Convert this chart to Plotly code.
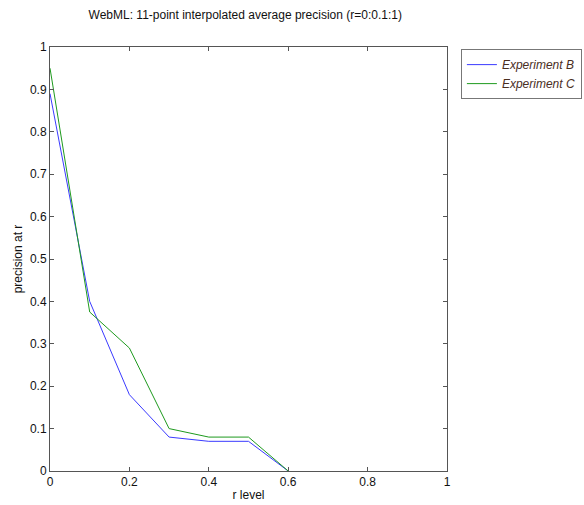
import plotly.graph_objects as go

# Recall levels and interpolated precision for each experiment
r_levels = [0.0, 0.1, 0.2, 0.3, 0.4, 0.5, 0.6]
precision_b = [0.89, 0.40, 0.18, 0.08, 0.07, 0.07, 0.0]
precision_c = [0.95, 0.375, 0.29, 0.10, 0.08, 0.08, 0.0]

x_ticks = [0, 0.2, 0.4, 0.6, 0.8, 1]
x_tick_text = ["0", "0.2", "0.4", "0.6", "0.8", "1"]
y_ticks = [0, 0.1, 0.2, 0.3, 0.4, 0.5, 0.6, 0.7, 0.8, 0.9, 1]
y_tick_text = ["0", "0.1", "0.2", "0.3", "0.4", "0.5", "0.6", "0.7", "0.8", "0.9", "1"]

fig = go.Figure()
fig.add_trace(go.Scatter(x=r_levels, y=precision_b, mode="lines", name="Experiment B",
                         line=dict(color="#3a3aff", width=1)))
fig.add_trace(go.Scatter(x=r_levels, y=precision_c, mode="lines", name="Experiment C",
                         line=dict(color="#1e9a1e", width=1)))

axis_common = dict(showline=True, linecolor="#555555", linewidth=1, mirror="ticks",
                   ticks="inside", ticklen=4, tickcolor="#555555", showgrid=False,
                   zeroline=False, tickfont=dict(size=12, color="#111111"))

fig.update_layout(
    width=584, height=505,
    margin=dict(l=50, r=137, t=47, b=34, autoexpand=False),
    paper_bgcolor="white", plot_bgcolor="white",
    font=dict(family="Liberation Sans, Arial, sans-serif", size=12, color="#111111"),
    title=dict(text="WebML: 11-point interpolated average precision (r=0:0.1:1)",
               x=0.42, xanchor="center", y=0.97, yanchor="middle",
               font=dict(size=12, color="#111111")),
    xaxis=dict(range=[0, 1], tickvals=x_ticks, ticktext=x_tick_text,
               title=dict(text="r level", standoff=2, font=dict(size=12)), **axis_common),
    yaxis=dict(range=[0, 1], tickvals=y_ticks, ticktext=y_tick_text,
               title=dict(text="precision at r", standoff=4, font=dict(size=12)), **axis_common),
    legend=dict(x=1.035, y=0.995, xanchor="left", yanchor="top",
                bordercolor="#777777", borderwidth=1, bgcolor="white",
                font=dict(size=12, color="#4a2e1e", style="italic"),
                tracegroupgap=0, itemwidth=30),
    showlegend=True,
)

fig.write_html("out.html")
